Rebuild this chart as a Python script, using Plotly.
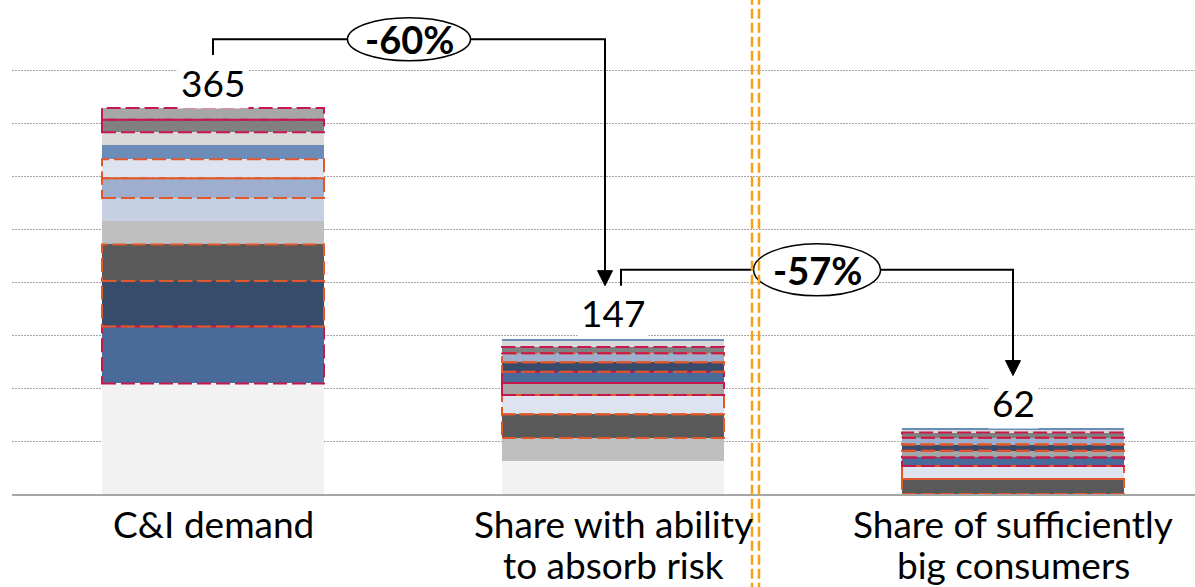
import plotly.graph_objects as go

# ---- data -------------------------------------------------------------
categories = [
    "C&I demand",
    "Share with ability<br>to absorb risk",
    "Share of sufficiently<br>big consumers",
]
totals = [365, 147, 62]
changes = ["-60%", "-57%"]

# segment composition of each column, listed bottom to top
col1_keys = ["s1", "s2", "s3", "s4", "s5", "s6", "s7", "s8", "s9", "s10", "s11", "s12"]
col1_vals = [104.5, 54, 43, 34.5, 22, 22, 18.5, 18, 13.5, 12, 12, 11]

col2_keys = ["s1", "s5", "s4", "s8", "s12", "s2", "s3", "s7", "s11", "s10", "s9"]
col2_vals = [31, 22, 22.5, 18, 11.5, 10.5, 9, 8.5, 6, 6.5, 1.5]

col3_keys = ["s4", "s8", "s2", "s12", "s3", "s7", "s11", "s10", "s9"]
col3_vals = [14.3, 12.2, 8.1, 6.4, 5.8, 6.5, 4.8, 3.2, 0.7]

# ---- styles -----------------------------------------------------------
ORANGE = "#e2582a"
CRIMSON = "#c8174a"
seg_style = {
    "s1": ("#f2f2f2", None),
    "s2": ("#4a6a9a", CRIMSON),
    "s3": ("#374b6b", ORANGE),
    "s4": ("#595959", ORANGE),
    "s5": ("#bfbfbf", None),
    "s6": ("#c5d0e2", None),
    "s7": ("#9dafcd", ORANGE),
    "s8": ("#dde4ef", ORANGE),
    "s9": ("#6b8cb8", None),
    "s10": ("#d9d9d9", None),
    "s11": ("#808080", CRIMSON),
    "s12": ("#a6a6a6", CRIMSON),
}
FONT = "Lato"
BAR_W = 0.555

fig = go.Figure()
shapes = []

columns = [(col1_keys, col1_vals), (col2_keys, col2_vals), (col3_keys, col3_vals)]
for xi, (keys, vals) in enumerate(columns):
    base = 0.0
    for k, v in zip(keys, vals):
        color, outline = seg_style[k]
        fig.add_trace(go.Bar(
            x=[xi], y=[v], base=[base], width=BAR_W,
            marker=dict(color=color, line=dict(width=0)),
            showlegend=False, hoverinfo="skip",
        ))
        if outline:
            shapes.append(dict(
                type="rect", xref="x", yref="y",
                x0=xi - BAR_W / 2, x1=xi + BAR_W / 2, y0=base, y1=base + v,
                line=dict(color=outline, width=2, dash="14px,5px"),
                fillcolor="rgba(0,0,0,0)", layer="above",
            ))
        base += v

annotations = []

# category labels below the axis, one annotation per text line
LINE_GAP = 40.5
for xi, label in enumerate(categories):
    for li, line in enumerate(label.split("<br>")):
        annotations.append(dict(
            x=xi, y=0, xref="x", yref="paper", text=line, showarrow=False,
            yanchor="top", yshift=-5 - li * LINE_GAP,
            font=dict(family=FONT, size=37, color="black"),
        ))

# total labels above each column
for xi, t in enumerate(totals):
    annotations.append(dict(
        x=xi, y=t, xref="x", yref="y", text=str(t), showarrow=False,
        yanchor="middle", yshift=26, bgcolor="white", borderpad=3,
        font=dict(family=FONT, size=37, color="black"),
    ))

# change brackets between columns
TICK_OFF = 50
LEVEL_OFF = 65
bracket_x = [(0, 0.98), (1.02, 2)]
ell_w = [0.3075, 0.3175]
ell_h = [43, 52]
for i, (xa, xb) in enumerate(bracket_x):
    ta, tb = totals[i], totals[i + 1]
    level = max(ta, tb) + LEVEL_OFF
    start = ta + TICK_OFF
    tip = tb + TICK_OFF
    shapes.append(dict(
        type="path", xref="x", yref="y",
        path=f"M {xa},{start} V {level} H {xb} V {tip + 8}",
        line=dict(color="black", width=2), layer="above",
    ))
    shapes.append(dict(
        type="path", xref="x", yref="y",
        xsizemode="pixel", ysizemode="pixel", xanchor=xb, yanchor=tip,
        path="M 0,0 L -7.5,15 L 7.5,15 Z",
        fillcolor="black", line=dict(color="black", width=1), layer="above",
    ))
    xm = (xa + xb) / 2
    shapes.append(dict(
        type="circle", xref="x", yref="y",
        xsizemode="pixel", ysizemode="pixel", xanchor=xm, yanchor=level,
        x0=-ell_w[i] * 200, x1=ell_w[i] * 200,
        y0=-ell_h[i] / 2, y1=ell_h[i] / 2,
        fillcolor="white", line=dict(color="black", width=1.5), layer="above",
    ))
    annotations.append(dict(
        x=xm, y=level, xref="x", yref="y", text=f"<b>{changes[i]}</b>",
        showarrow=False, font=dict(family=FONT, size=38, color="black"),
    ))

# orange separator (double dashed line)
for xs in (1.3475, 1.365):
    shapes.append(dict(
        type="line", xref="x", yref="paper", x0=xs, x1=xs, y0=-0.2, y1=1.0,
        line=dict(color="#f2a31b", width=2.5, dash="10px,4px"), layer="above",
    ))

PX_PER_UNIT = 386 / 365
fig.update_layout(
    width=1195, height=587,
    margin=dict(l=12, r=0, t=0, b=93),
    paper_bgcolor="white", plot_bgcolor="white",
    barmode="overlay", bargap=0,
    shapes=shapes, annotations=annotations,
    font=dict(family=FONT, color="black"),
    xaxis=dict(
        range=[-0.5025, 2.455], tickvals=[0, 1, 2], showticklabels=False,
        showgrid=False, zeroline=False, ticks="",
        showline=True, linecolor="#a6a6a6", linewidth=2,
    ),
    yaxis=dict(
        range=[0, 494 / PX_PER_UNIT],
        tickvals=[50, 100, 150, 200, 250, 300, 350, 400],
        showticklabels=False, zeroline=False, showline=False,
        gridcolor="#a6a6a6", griddash="1.5px,1.5px", gridwidth=1,
    ),
)

fig.write_html("out.html")
